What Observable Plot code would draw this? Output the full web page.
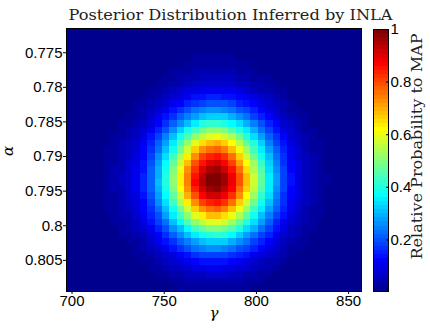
<!DOCTYPE html>
<html><head><meta charset="utf-8">
<script src="https://cdn.jsdelivr.net/npm/d3@7"></script>
<script src="https://cdn.jsdelivr.net/npm/@observablehq/plot@0.6"></script>
<style>
html,body{margin:0;padding:0;background:#fff;}
#chart{position:relative;width:430px;height:331px;}
#chart svg{position:absolute;left:0;top:0;}
</style></head><body><div id="chart"></div>
<script>
// gamma (x) cell centres, step 4
const gammaCenters = [699,703,707,711,715,719,723,727,731,735,739,743,747,751,755,759,763,767,771,775,
  779,783,787,791,795,799,803,807,811,815,819,823,827,831,835,839,843,847,851,855];
const gammaHalf = 2;
// alpha (y) cell centres, step 0.00095
const alphaCenters = [0.771975,0.772925,0.773875,0.774825,0.775775,0.776725,0.777675,0.778625,0.779575,0.780525,
  0.781475,0.782425,0.783375,0.784325,0.785275,0.786225,0.787175,0.788125,0.789075,0.790025,
  0.790975,0.791925,0.792875,0.793825,0.794775,0.795725,0.796675,0.797625,0.798575,0.799525,
  0.800475,0.801425,0.802375,0.803325,0.804275,0.805225,0.806175,0.807125,0.808075,0.809025];
const alphaHalf = 0.000475;
// relative probability profile across gamma (read along the MAP row)
const gammaProfile = [0.004,0.006,0.009,0.013,0.018,0.026,0.037,0.052,0.074,0.105,
  0.15,0.22,0.30,0.40,0.51,0.63,0.75,0.86,0.94,0.99,
  1.00,0.96,0.89,0.79,0.68,0.57,0.46,0.36,0.27,0.19,
  0.13,0.09,0.062,0.043,0.03,0.02,0.014,0.010,0.007,0.005];
// relative probability profile across alpha (read along the MAP column)
const alphaProfile = [0.008,0.010,0.013,0.017,0.023,0.031,0.042,0.057,0.078,0.11,
  0.15,0.20,0.26,0.33,0.42,0.51,0.60,0.69,0.77,0.85,
  0.91,0.96,0.995,1.00,0.97,0.92,0.85,0.77,0.68,0.59,
  0.50,0.41,0.33,0.26,0.19,0.14,0.10,0.07,0.048,0.032];

const xTicks = [700,750,800,850];
const yTicks = [0.775,0.78,0.785,0.79,0.795,0.8,0.805];
const yTickLabels = ["0.775","0.78","0.785","0.79","0.795","0.8","0.805"];
const cTicks = [0.2,0.4,0.6,0.8,1];
const cTickLabels = ["0.2","0.4","0.6","0.8","1"];
const cMin = 0.004, cMax = 1;

// MATLAB jet(64)
function u(i){ if(i<1||i>47) return 0; if(i<=16) return i/16; if(i<=31) return 1; return (48-i)/16; }
const jet = d3.range(1,65).map(k => {
  const r = k>=25 ? u(k-24) : 0, g = (k>=9&&k<=55) ? u(k-8) : 0, b = k<=39 ? u(k+8) : 0;
  return d3.rgb(r*255,g*255,b*255).formatHex();
});
const step = (cMax-cMin)/64;
const thresholds = d3.range(1,64).map(k => cMin + k*step);
const colorScale = {type:"threshold", domain: thresholds, range: jet};

const cells = [];
alphaCenters.forEach((a,j) => gammaCenters.forEach((g,i) => {
  cells.push({gamma:g, alpha:a, p: gammaProfile[i]*alphaProfile[j]});
}));

const sans = "'Liberation Sans', Arial, sans-serif";
const serif = "'DejaVu Serif', serif";

const main = Plot.plot({
  width: 430, height: 331,
  marginLeft: 66, marginRight: 69, marginTop: 28, marginBottom: 40,
  style: {fontFamily: sans, fontSize: "15px", background: "transparent", overflow: "visible"},
  x: {domain: [697, 857]},
  y: {domain: [0.7715, 0.8095], reverse: true},
  color: colorScale,
  marks: [
    Plot.rect(cells, {x1: d => d.gamma - gammaHalf, x2: d => d.gamma + gammaHalf,
      y1: d => d.alpha - alphaHalf, y2: d => d.alpha + alphaHalf,
      fill: "p", shapeRendering: "crispEdges"}),
    Plot.frame({stroke: "black", strokeWidth: 1}),
    Plot.axisX({ticks: xTicks, tickSize: 3, tickPadding: 1, tickFormat: d => String(d), label: null, fontSize: 15}),
    Plot.axisY({ticks: yTicks, tickSize: 3, tickPadding: 1, tickFormat: d => yTickLabels[yTicks.indexOf(d)], label: null, fontSize: 15}),
    Plot.text(["Posterior Distribution Inferred by INLA"], {frameAnchor: "top-left", dx: 2, dy: -18,
      textAnchor: "start", fontFamily: serif, fontSize: 14, fill: "#222"}),
    Plot.text(["α"], {frameAnchor: "left", dx: -58, dy: -4, rotate: -90, fontFamily: serif, fontStyle: "italic", fontSize: 15}),
    Plot.text(["γ"], {frameAnchor: "bottom", dy: 26, fontFamily: serif, fontStyle: "italic", fontSize: 15})
  ]
});

const bands = d3.range(64).map(k => ({lo: cMin + k*step, hi: cMin + (k+1)*step, mid: cMin + (k+0.5)*step}));
const bar = Plot.plot({
  width: 430, height: 331,
  marginLeft: 373, marginRight: 42, marginTop: 29, marginBottom: 40,
  style: {fontFamily: sans, fontSize: "15px", background: "transparent", overflow: "visible"},
  y: {domain: [cMin, cMax]},
  color: colorScale,
  marks: [
    Plot.rect(bands, {y1: "lo", y2: "hi", fill: "mid", shapeRendering: "crispEdges"}),
    Plot.frame({stroke: "black", strokeWidth: 1}),
    Plot.axisY({anchor: "right", ticks: cTicks, tickSize: -3, tickPadding: 5,
      tickFormat: d => cTickLabels[cTicks.indexOf(d)], label: null, fontSize: 15}),
    Plot.text(["Relative Probability to MAP"], {frameAnchor: "bottom-right", dx: 33, dy: -32, rotate: -90,
      textAnchor: "start", fontFamily: serif, fontSize: 14, fill: "#222"})
  ]
});

const chart = document.getElementById("chart");
chart.appendChild(main);
chart.appendChild(bar);

// match the reference's text run lengths
d3.select(main).selectAll("text").filter(function(){ return this.textContent === "Posterior Distribution Inferred by INLA"; })
  .attr("textLength", 324).attr("lengthAdjust", "spacingAndGlyphs");
d3.select(bar).selectAll("text").filter(function(){ return this.textContent === "Relative Probability to MAP"; })
  .attr("textLength", 226).attr("lengthAdjust", "spacingAndGlyphs");
</script></body></html>
